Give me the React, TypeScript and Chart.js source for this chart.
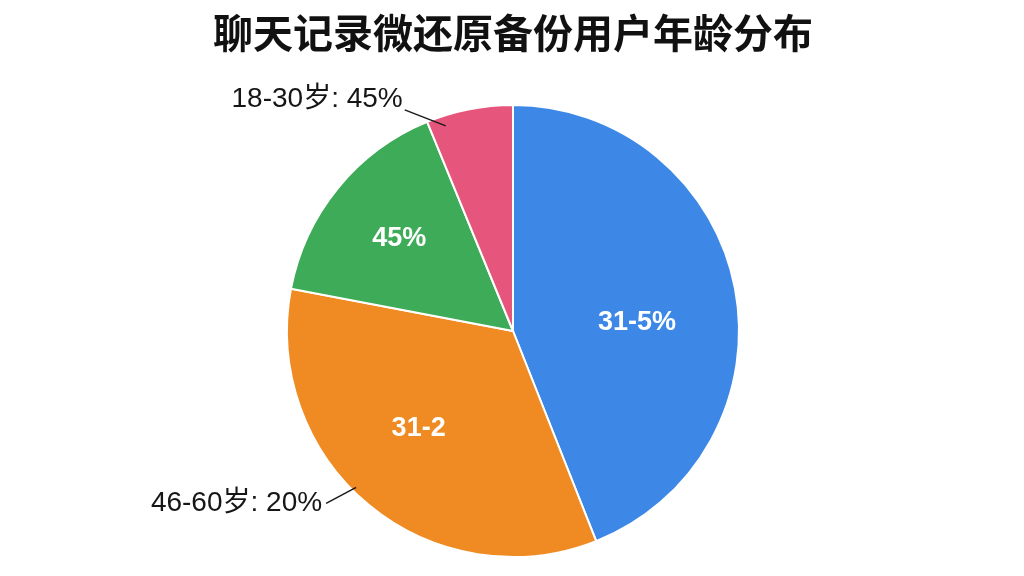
import React, { useEffect, useRef } from "react";
import { Chart, registerables } from "chart.js";

Chart.register(...registerables);

const TITLE = "聊天记录微还原备份用户年龄分布";
const categories = ["31-45岁", "46-60岁", "18-30岁(二)", "18-30岁"];
const values = [44.0, 34.0, 15.8, 6.2];
const colors = ["#3D88E6", "#EF8B22", "#3DAB57", "#E6567C"];
const innerLabels = ["31-5%", "31-2", "45%", ""];
const outerLabels = ["", "46-60岁: 20%", "", "18-30岁: 45%"];

// placement tweaks (style only)
const innerPlacement = [
  { frac: 0.55, shift: 7 },
  { frac: 0.6, shift: 4.5 },
  { frac: 0.65, shift: 0 },
  { frac: 0.5, shift: 0 },
];
const outerPlacement = [
  null,
  { frac: 0.98, shift: 5.5, dx: -30, dy: 16, tdx: -4, tdy: 0 },
  null,
  { frac: 0.955, shift: -7, dx: -41, dy: -16, tdx: -2, tdy: -11 },
];

const labelPlugin = {
  id: "sliceLabels",
  afterDatasetsDraw(chart: any) {
    const ctx = chart.ctx;
    const meta = chart.getDatasetMeta(0);
    meta.data.forEach((arc: any, i: number) => {
      const p = arc.getProps(["x", "y", "startAngle", "endAngle", "outerRadius"], true);
      const mid = (p.startAngle + p.endAngle) / 2;
      const ip = innerPlacement[i];
      if (innerLabels[i]) {
        const a = mid + (ip.shift * Math.PI) / 180;
        const r = p.outerRadius * ip.frac;
        ctx.save();
        ctx.font = "bold 27px 'Liberation Sans', Arial, sans-serif";
        ctx.fillStyle = "#ffffff";
        ctx.textAlign = "center";
        ctx.textBaseline = "middle";
        ctx.fillText(innerLabels[i], p.x + Math.cos(a) * r, p.y + Math.sin(a) * r);
        ctx.restore();
      }
      const op = outerPlacement[i];
      if (outerLabels[i] && op) {
        const a = mid + (op.shift * Math.PI) / 180;
        const r = p.outerRadius * op.frac;
        const ex = p.x + Math.cos(a) * r;
        const ey = p.y + Math.sin(a) * r;
        const sx = ex + op.dx;
        const sy = ey + op.dy;
        ctx.save();
        ctx.strokeStyle = "#1a1a1a";
        ctx.lineWidth = 1.5;
        ctx.beginPath();
        ctx.moveTo(sx, sy);
        ctx.lineTo(ex, ey);
        ctx.stroke();
        ctx.font = "28px 'Liberation Sans', Arial, 'Noto Sans CJK SC', sans-serif";
        ctx.fillStyle = "#161616";
        ctx.textAlign = "right";
        ctx.textBaseline = "middle";
        ctx.fillText(outerLabels[i], sx + op.tdx, sy + op.tdy);
        ctx.restore();
      }
    });
  },
};

export default function App() {
  const ref = useRef<HTMLCanvasElement | null>(null);
  useEffect(() => {
    if (!ref.current) return;
    const chart = new Chart(ref.current, {
      type: "pie",
      data: {
        labels: categories,
        datasets: [
          {
            data: values,
            backgroundColor: colors,
            borderColor: "#ffffff",
            borderWidth: 2,
          },
        ],
      },
      options: {
        animation: false,
        responsive: true,
        maintainAspectRatio: false,
        layout: { padding: { left: 2, right: 0, top: 0, bottom: 18 } },
        plugins: {
          legend: { display: false },
          tooltip: { enabled: false },
          title: {
            display: true,
            text: TITLE,
            color: "#111111",
            font: { size: 40, weight: "bold", family: "'Noto Sans CJK SC', sans-serif", lineHeight: 1.2 },
            padding: { top: 9, bottom: 47 },
          },
        },
      },
      plugins: [labelPlugin],
    });
    return () => chart.destroy();
  }, []);
  return (
    <div style={{ position: "absolute", left: 0, top: 0, width: 1024, height: 576, background: "#ffffff" }}>
      <canvas ref={ref} />
    </div>
  );
}
